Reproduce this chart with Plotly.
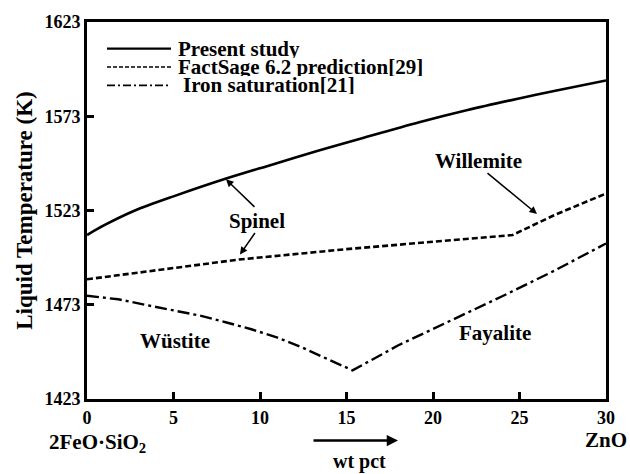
import plotly.graph_objects as go

# Data
present_x = [0, 1, 2.77, 5, 8, 10.5, 13.4, 16, 19.2, 22, 24.9, 27, 30]
present_T = [1510, 1515.2, 1523, 1530.5, 1539.8, 1546.8, 1554.8, 1561.6, 1569.8, 1576.3, 1582.3, 1586.4, 1592]

factsage_x = [0, 5, 8.8, 15, 20, 24.6, 27, 30]
factsage_T = [1486.5, 1492.5, 1497, 1502.5, 1506.5, 1510, 1520.5, 1532]

iron_x = [0, 1.8, 3.74, 6.6, 8.07, 9.5, 10.97, 12.4, 13.85, 15.35, 18, 21, 24, 27, 30]
iron_T = [1477.8, 1475.9, 1472.3, 1467.1, 1463.6, 1460, 1455.7, 1450.5, 1444.4, 1438.2, 1451.5, 1464.5, 1477.5, 1491, 1505.5]

x_ticks = [0, 5, 10, 15, 20, 25, 30]
y_ticks = [1423, 1473, 1523, 1573, 1623]

FONT = "Liberation Serif, Times New Roman, serif"

fig = go.Figure()
fig.add_trace(go.Scatter(x=present_x, y=present_T, mode="lines", name="Present study",
                         line=dict(color="black", width=2.6, shape="spline", smoothing=0.8)))
fig.add_trace(go.Scatter(x=factsage_x, y=factsage_T, mode="lines", name="FactSage 6.2 prediction[29]",
                         line=dict(color="black", width=2.6, dash="6px,3px")))
fig.add_trace(go.Scatter(x=iron_x, y=iron_T, mode="lines", name="Iron saturation[21]",
                         line=dict(color="black", width=2.4, dash="12px,4px,3px,4px")))

fig.update_layout(
    width=630, height=474,
    margin=dict(l=87, r=24, t=18, b=75),
    paper_bgcolor="white", plot_bgcolor="white",
    showlegend=False,
    font=dict(family=FONT, color="black", size=17),
)
fig.update_xaxes(range=[0, 30], tickvals=x_ticks, ticks="inside", ticklen=7, tickwidth=2.5,
                 tickcolor="black", showline=True, linewidth=3, linecolor="black", mirror=True,
                 showgrid=False, zeroline=False,
                 tickfont=dict(family=FONT, size=18, color="black", weight="bold"))
fig.update_yaxes(range=[1423, 1623], tickvals=y_ticks, ticks="inside", ticklen=7, tickwidth=2.5,
                 tickcolor="black", showline=True, linewidth=3, linecolor="black", mirror=True,
                 showgrid=False, zeroline=False,
                 title=dict(text="Liquid Temperature (K)", standoff=6,
                            font=dict(family=FONT, size=23, color="black", weight="bold")),
                 tickfont=dict(family=FONT, size=18, color="black", weight="bold"))

# Manual legend (paper coordinates)
px0, pw, py0, ph = 87, 519, 18, 381
def xp(px):
    return (px - px0) / pw
def yp(py):
    return 1 - (py - py0) / ph

legend_items = [("Present study", "solid", 2.2), ("FactSage 6.2 prediction[29]", "4px,2px", 1.5),
                ("Iron saturation[21]", "8px,3px,2px,3px", 1.8)]
rows = [45, 63.5, 82]
for (name, dash, w), ry in zip(legend_items, rows):
    fig.add_shape(type="line", xref="paper", yref="paper", x0=xp(107), x1=xp(171), y0=yp(ry), y1=yp(ry),
                  line=dict(color="black", width=w, dash=dash))
    fig.add_annotation(xref="paper", yref="paper", x=xp(176 if ry != 82 else 181), y=yp(ry),
                       text="<b>%s</b>" % name, showarrow=False, xanchor="left", yanchor="middle",
                       height=18, valign="middle",
                       font=dict(family=FONT, size=21, color="black"))

# Region labels
def lab(text, x, y, size=21):
    fig.add_annotation(xref="paper", yref="paper", x=xp(x), y=yp(y), text="<b>%s</b>" % text,
                       showarrow=False, xanchor="center", yanchor="middle",
                       font=dict(family=FONT, size=size, color="black"))

lab("Spinel", 257, 219)
lab("Willemite", 478, 158)
lab("Wüstite", 175, 340)
lab("Fayalite", 495, 332)

def arrow(x_tail, y_tail, x_tip, y_tip, width=1.5, head=2, size=1.0):
    fig.add_annotation(xref="paper", yref="paper",
                       x=xp(x_tip), y=yp(y_tip), ax=x_tail - x_tip, ay=y_tail - y_tip, text="",
                       showarrow=True, arrowhead=head, arrowwidth=width, arrowsize=size, arrowcolor="black")

arrow(256, 206, 226, 177)
arrow(256, 230, 240, 253)
arrow(486, 170, 537, 212)

# Bottom composition labels
fig.add_annotation(xref="paper", yref="paper", x=xp(97), y=yp(443), text="<b>2FeO·SiO<sub>2</sub></b>",
                   showarrow=False, xanchor="center", yanchor="middle",
                   font=dict(family=FONT, size=21, color="black"))
fig.add_annotation(xref="paper", yref="paper", x=xp(606), y=yp(440), text="<b>ZnO</b>",
                   showarrow=False, xanchor="center", yanchor="middle",
                   font=dict(family=FONT, size=21, color="black"))
fig.add_annotation(xref="paper", yref="paper", x=xp(359), y=yp(462), text="<b>wt pct</b>",
                   showarrow=False, xanchor="center", yanchor="middle",
                   font=dict(family=FONT, size=20, color="black"))
arrow(312, 441, 398, 441, width=2.5, head=2, size=0.9)

fig.write_html("out.html")
